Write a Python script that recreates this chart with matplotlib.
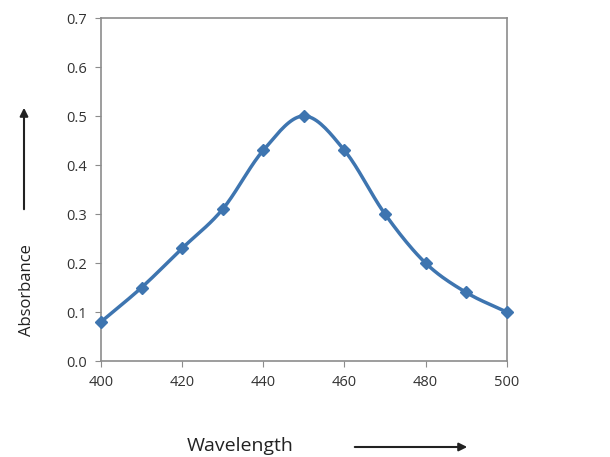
import numpy as np
import matplotlib
matplotlib.use('Agg')
import matplotlib.pyplot as plt

# --- Data ---
wavelength = [400, 410, 420, 430, 440, 450, 460, 470, 480, 490, 500]
absorbance = [0.08, 0.15, 0.23, 0.31, 0.43, 0.50, 0.43, 0.30, 0.20, 0.14, 0.10]

LINE_COLOR = '#3e75b0'
GRID_GRAY = '#8c8c8c'

plt.rcParams['font.family'] = ['Open Sans', 'DejaVu Sans']


def smooth(x, y, n=20):
    # Catmull-Rom style smoothing, like Excel's "smoothed line"
    x = np.asarray(x, float)
    y = np.asarray(y, float)
    px = np.concatenate([[2 * x[0] - x[1]], x, [2 * x[-1] - x[-2]]])
    py = np.concatenate([[2 * y[0] - y[1]], y, [2 * y[-1] - y[-2]]])
    t = np.linspace(0, 1, n)
    xs, ys = [], []
    for i in range(1, len(px) - 2):
        for arr, out in ((px, xs), (py, ys)):
            p0, p1, p2, p3 = arr[i - 1], arr[i], arr[i + 1], arr[i + 2]
            out.extend(0.5 * ((2 * p1) + (-p0 + p2) * t
                              + (2 * p0 - 5 * p1 + 4 * p2 - p3) * t ** 2
                              + (-p0 + 3 * p1 - 3 * p2 + p3) * t ** 3))
    return xs, ys


fig = plt.figure(figsize=(6.1, 4.57), dpi=100)
ax = fig.add_axes([0.1656, 0.21, 0.665, 0.7506])

sx, sy = smooth(wavelength, absorbance)
ax.plot(sx, sy, color=LINE_COLOR, lw=2.5, solid_capstyle='round', clip_on=False, zorder=3)
ax.plot(wavelength, absorbance, linestyle='none', marker='D', ms=6.5,
        color=LINE_COLOR, clip_on=False, zorder=4)

ax.set_xlim(400, 500)
ax.set_ylim(0, 0.7)
ax.set_xticks(range(400, 501, 20))
ax.set_yticks(np.arange(0, 0.71, 0.1))
ax.set_yticklabels([f'{v:.1f}' for v in np.arange(0, 0.71, 0.1)])

for s in ax.spines.values():
    s.set_color(GRID_GRAY)
    s.set_linewidth(1.2)
ax.tick_params(colors=GRID_GRAY, labelcolor='#333333', labelsize=10.5, length=4, pad=6)

# --- Axis labels with arrows ---
fig.text(240 / 610, 1 - 455 / 457, 'Wavelength', fontsize=14, color='#222222', ha='center', va='bottom')
fig.text(0.044, 1 - 290 / 457, 'Absorbance', fontsize=12, color='#222222', rotation=90,
         ha='center', va='center', family=['Liberation Sans Narrow', 'Open Sans', 'DejaVu Sans'])

fig.add_artist(matplotlib.patches.FancyArrowPatch(
    (352 / 610, 1 - 447 / 457), (470 / 610, 1 - 447 / 457), transform=fig.transFigure,
    arrowstyle='-|>', mutation_scale=12, color='#222222', lw=1.5))
fig.add_artist(matplotlib.patches.FancyArrowPatch(
    (24 / 610, 1 - 212 / 457), (24 / 610, 1 - 105 / 457), transform=fig.transFigure,
    arrowstyle='-|>', mutation_scale=12, color='#222222', lw=1.5))

fig.savefig('out.png', dpi=100, facecolor='white')
